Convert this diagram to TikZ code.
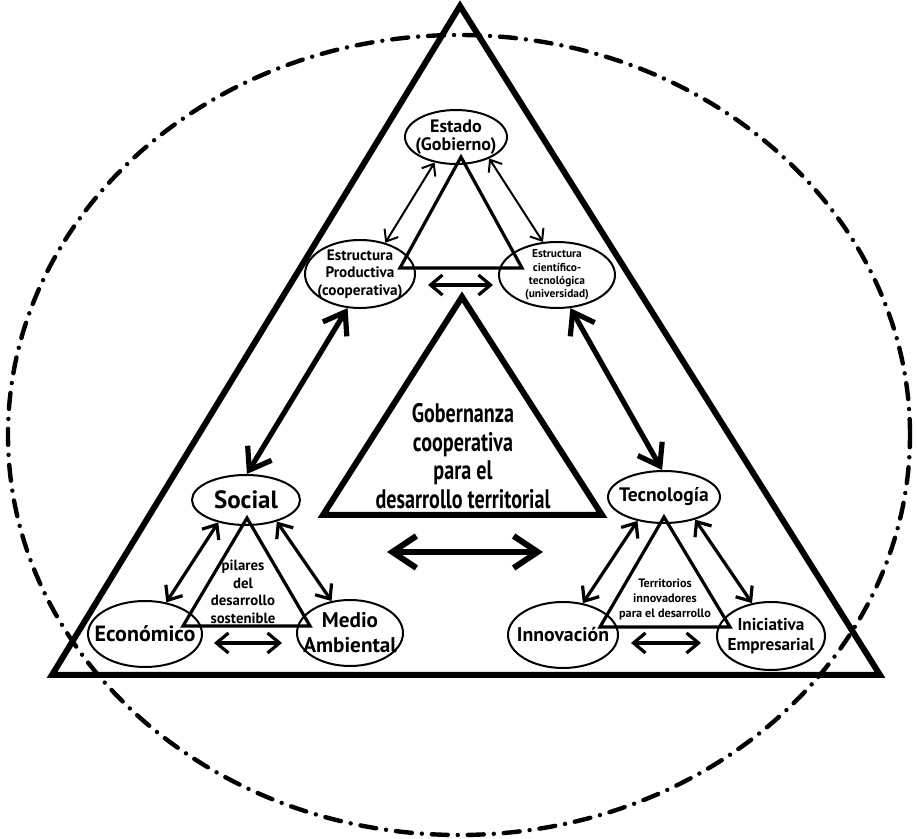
\documentclass[tikz,border=0pt]{standalone}
\usepackage{fontspec}
\setmainfont{PT Sans}
\newfontfamily\condfont{PT Sans}[FakeStretch=0.75]
\usetikzlibrary{arrows.meta,shapes.geometric,calc}
\begin{document}
\begin{tikzpicture}[x=0.5pt,y=-0.5pt,
  elli/.style={ellipse,draw,line width=1pt,inner sep=-8pt,align=center},
  thinarr/.style={line width=1pt,{Straight Barb[length=5pt,width=8pt]}-{Straight Barb[length=5pt,width=8pt]}},
  medarr/.style={line width=1.6pt,{Straight Barb[length=6pt,width=10pt]}-{Straight Barb[length=6pt,width=10pt]}},
  thickarr/.style={line width=2.6pt,{Straight Barb[length=10pt,width=14pt]}-{Straight Barb[length=10pt,width=14pt]}},
  bigarr/.style={line width=3pt,{Straight Barb[length=12pt,width=16pt]}-{Straight Barb[length=12pt,width=16pt]}},
  bigtri/.style={line width=3pt,line join=miter},
  smalltri/.style={line width=1.6pt,line join=miter},
  outline/.style={line width=2.2pt,line cap=round,dash pattern=on 8pt off 5pt on 0pt off 5pt},
  tritext/.style={align=center,inner sep=0pt}
]
\fill[white] (0,0) rectangle (918,839);
\useasboundingbox (0,0) rectangle (918,839);

% outer dash-dot ellipse
\draw[outline] (459,435) ellipse [x radius=225.5pt, y radius=200pt];

% outer triangle
\draw[bigtri] (460,6) -- (52,675) -- (880,675) -- cycle;

% central triangle
\coordinate (ca) at (462,297);
\coordinate (cl) at (323,515);
\coordinate (cr) at (602,515);
\draw[bigtri] (ca) -- (cl) -- (cr) -- cycle;
\node[tritext,font=\condfont\bfseries\fontsize{13.4}{14.3}\selectfont] (gob) at (463,456)
  {Gobernanza\\cooperativa\\para el\\desarrollo territorial};

% small triangles
\draw[smalltri] (461,157) -- (400,268) -- (522,268) -- cycle;
\draw[smalltri] (247,518) -- (183,626) -- (310,626) -- cycle;
\draw[smalltri] (664,517) -- (600,627) -- (730,627) -- cycle;

\node[tritext,font=\bfseries\fontsize{7.4}{8.75}\selectfont] (pil) at (243,592)
  {pilares\\del\\desarrollo\\sostenible};
\node[tritext,font=\bfseries\fontsize{6.1}{7.5}\selectfont] (ter) at (665,599)
  {Territorios\\innovadores\\para el desarrollo};

% ellipses
\node[elli,minimum width=51pt,minimum height=27pt,font=\bfseries\fontsize{9}{9}\selectfont] (est) at (456,137) {Estado\\(Gobierno)};
\node[elli,minimum width=55pt,minimum height=34pt,font=\bfseries\fontsize{7.6}{8.75}\selectfont] (ep) at (360,274) {Estructura\\Productiva\\(cooperativa)};
\node[elli,minimum width=58pt,minimum height=33pt,font=\bfseries\fontsize{5.7}{6.7}\selectfont] (ect) at (557,275) {Estructura\\científico-\\tecnológica\\(universidad)};
\node[elli,minimum width=54pt,minimum height=25pt,font=\bfseries\fontsize{12.5}{14}\selectfont] (soc) at (246,500) {Social};
\node[elli,minimum width=57pt,minimum height=33pt,font=\bfseries\fontsize{11}{12}\selectfont] (eco) at (145,634) {Económico};
\node[elli,minimum width=53pt,minimum height=33pt,font=\bfseries\fontsize{10.6}{12.5}\selectfont] (med) at (350,633) {Medio\\Ambiental};
\node[elli,minimum width=56pt,minimum height=26pt,font=\bfseries\fontsize{9.75}{11}\selectfont] (tec) at (664,497) {Tecnología};
\node[elli,minimum width=55pt,minimum height=33pt,font=\bfseries\fontsize{9.9}{11}\selectfont] (inn) at (563,635) {Innovación};
\node[elli,minimum width=54pt,minimum height=34pt,font=\bfseries\fontsize{8.6}{10}\selectfont] (ini) at (771,636) {Iniciativa\\Empresarial};

% top cluster arrows
\draw[thinarr] (est.230) -- (ep.51);
\draw[thinarr] (est.327) -- (ect.113);
\draw[medarr] ([yshift=-5.5pt,xshift=6pt]ep.east) -- ([yshift=-5pt,xshift=-2.5pt]ect.west);

% thick arrows
\draw[thickarr] (ep.250) -- (soc.88);
\draw[thickarr] (ect.292) -- (tec.94);
\draw[bigarr] ($(cl)+(64,37)$) -- ($(cr)+(-59,37)$);

% bottom-left arrows
\draw[medarr] (soc.219) -- (eco.56);
\draw[medarr] (soc.325) -- (med.120);
\draw[medarr] ([yshift=-4.5pt,xshift=5.5pt]eco.east) -- ([yshift=-5pt,xshift=-7pt]med.west);

% bottom-right arrows
\draw[medarr] (tec.222) -- (inn.58);
\draw[medarr] (tec.324) -- (ini.120);
\draw[medarr] ([yshift=-4pt,xshift=6pt]inn.east) -- ([yshift=-3.5pt,xshift=-7.5pt]ini.west);
\end{tikzpicture}
\end{document}
